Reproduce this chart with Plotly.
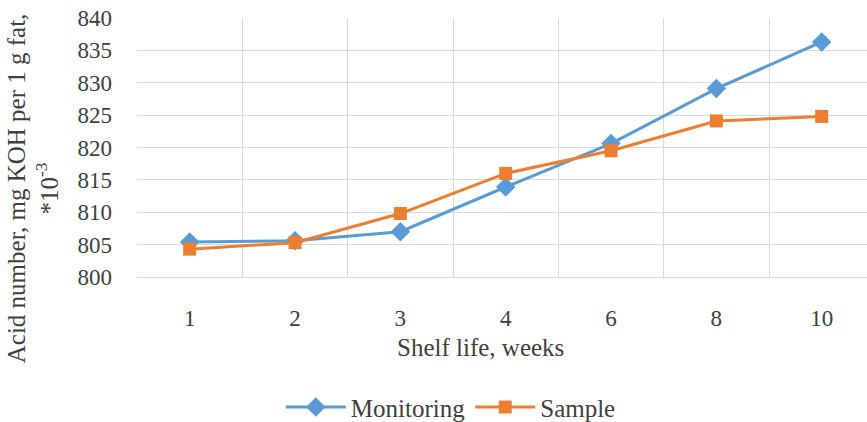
import plotly.graph_objects as go

weeks = ["1", "2", "3", "4", "6", "8", "10"]
monitoring = [805.4, 805.6, 807.0, 813.9, 820.6, 829.1, 836.3]
sample = [804.3, 805.3, 809.8, 816.0, 819.5, 824.1, 824.8]

FONT = "Liberation Serif, Times New Roman, DejaVu Serif, serif"
BLUE = "#5B9BD5"
ORANGE = "#ED7D31"
GRID = "#D9D9D9"
TXT = "#404040"
FS = 23
FT = 25

fig = go.Figure()
fig.add_trace(go.Scatter(x=weeks, y=monitoring, name="Monitoring", mode="lines+markers",
                         line=dict(color=BLUE, width=3),
                         marker=dict(symbol="diamond", size=15, color=BLUE)))
fig.add_trace(go.Scatter(x=weeks, y=sample, name="Sample", mode="lines+markers",
                         line=dict(color=ORANGE, width=3),
                         marker=dict(symbol="square", size=13, color=ORANGE)))

fig.update_layout(
    width=867, height=422,
    margin=dict(l=137, r=0, t=18, b=145),
    paper_bgcolor="white", plot_bgcolor="white",
    font=dict(family=FONT, size=FS, color=TXT),
    showlegend=True,
    legend=dict(orientation="h", xref="container", yref="container",
                x=0.52, xanchor="center", y=0.035, yanchor="middle",
                font=dict(family=FONT, size=FT, color=TXT),
                itemwidth=60),
    xaxis=dict(type="category", range=[-0.5, 6.43], tickson="boundaries",
               showgrid=True, gridcolor=GRID, gridwidth=1,
               showline=True, linecolor=GRID, linewidth=1, mirror=False,
               ticks="", ticklabelstandoff=20,
               tickfont=dict(family=FONT, size=FS, color=TXT)),
    yaxis=dict(range=[800, 840], dtick=5, showgrid=True, gridcolor=GRID, gridwidth=1,
               zeroline=False, showline=False, ticks="", ticklabelstandoff=24,
               tickfont=dict(family=FONT, size=FS, color=TXT)),
)
fig.add_annotation(text="Acid number, mg KOH per 1 g fat,<br>*10<sup>-3</sup>",
                   xref="paper", yref="paper", x=-0.142, y=0.344,
                   xanchor="center", yanchor="middle", textangle=-90, showarrow=False,
                   font=dict(family=FONT, size=FT, color=TXT))
fig.add_annotation(text="Shelf life, weeks", xref="paper", yref="paper",
                   x=0.471, y=-0.274, xanchor="center", yanchor="middle", showarrow=False,
                   font=dict(family=FONT, size=FT, color=TXT))

fig.write_html("out.html")
